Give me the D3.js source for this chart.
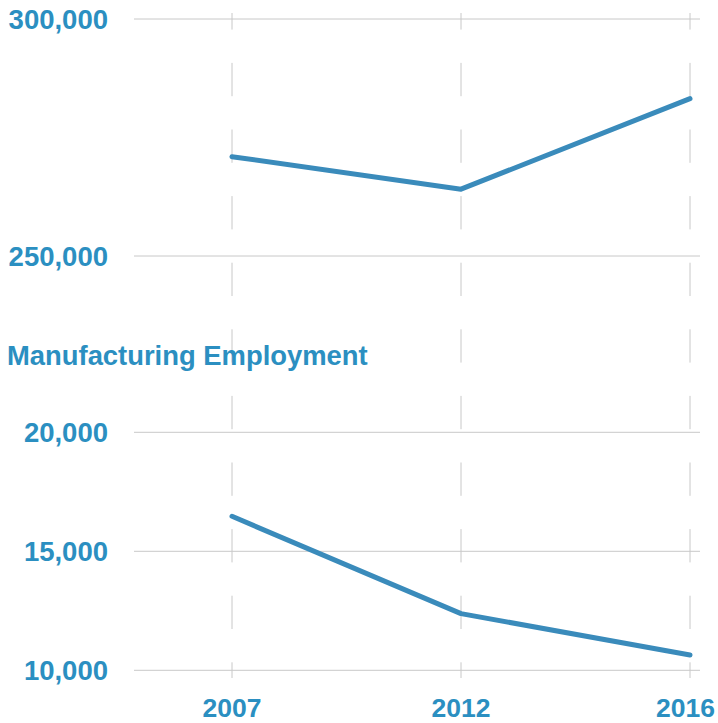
<!DOCTYPE html>
<html>
<head>
<meta charset="utf-8">
<script src="https://cdn.jsdelivr.net/npm/d3@7"></script>
<style>
  html, body { margin: 0; padding: 0; background: #fff; }
  svg { display: block; }
  text { font-family: "Liberation Sans", Arial, Helvetica, sans-serif; font-weight: bold; fill: #2b8fc1; }
</style>
</head>
<body>
<svg id="chart" width="718" height="723"></svg>
<script>
// Years shared by both panels
const years = ["2007", "2012", "2016"];

// Total employment (top panel)
const totalEmployment = [270950, 264100, 283200];
const totalTicks = [250000, 300000];

// Manufacturing employment (bottom panel)
const manufacturingEmployment = [16470, 12380, 10640];
const manufacturingTicks = [10000, 15000, 20000];
const manufacturingTitle = "Manufacturing Employment";

const gridLeft = 134, gridRight = 700;
const lineColor = "#3a8bbb";
const gridColor = "#c8c8c8";

const svg = d3.select("#chart");

const x = d3.scalePoint().domain(years).range([232, 690]);

const yTop = d3.scaleLinear().domain([250000, 300000]).range([256, 19]);
const yBot = d3.scaleLinear().domain([10000, 20000]).range([670.3, 432.3]);

const fmt = d3.format(",");

// Dashed vertical guides at each year, running through both panels
svg.append("g").selectAll("line")
  .data(years).join("line")
  .attr("x1", d => x(d)).attr("x2", d => x(d))
  .attr("y1", 13).attr("y2", 678)
  .attr("stroke", gridColor).attr("stroke-width", 1)
  .attr("stroke-dasharray", "33.3,33.3")
  .attr("stroke-dashoffset", 16.7);

function panel(yScale, ticks, values) {
  const g = svg.append("g");
  g.selectAll("line.grid")
    .data(ticks).join("line")
    .attr("class", "grid")
    .attr("x1", gridLeft).attr("x2", gridRight)
    .attr("y1", d => yScale(d)).attr("y2", d => yScale(d))
    .attr("stroke", gridColor).attr("stroke-width", 1);
  g.selectAll("text.tick")
    .data(ticks).join("text")
    .attr("class", "tick")
    .attr("x", 108)
    .attr("y", d => yScale(d))
    .attr("dy", "0.35em")
    .attr("text-anchor", "end")
    .style("font-size", "27.5px")
    .text(d => fmt(d));
  const line = d3.line()
    .x((d, i) => x(years[i]))
    .y(d => yScale(d));
  g.append("path")
    .datum(values)
    .attr("d", line)
    .attr("fill", "none")
    .attr("stroke", lineColor)
    .attr("stroke-width", 5)
    .attr("stroke-linecap", "round")
    .attr("stroke-linejoin", "round");
}

panel(yTop, totalTicks, totalEmployment);
panel(yBot, manufacturingTicks, manufacturingEmployment);

// Bottom panel title
svg.append("text")
  .attr("x", 7).attr("y", 365)
  .style("font-size", "27.4px")
  .text(manufacturingTitle);

// Year labels along the bottom
svg.append("g").selectAll("text")
  .data(years).join("text")
  .attr("x", (d, i) => i === years.length - 1 ? 715 : x(d))
  .attr("y", 717)
  .attr("text-anchor", (d, i) => i === years.length - 1 ? "end" : "middle")
  .style("font-size", "26.5px")
  .text(d => d);
</script>
</body>
</html>
